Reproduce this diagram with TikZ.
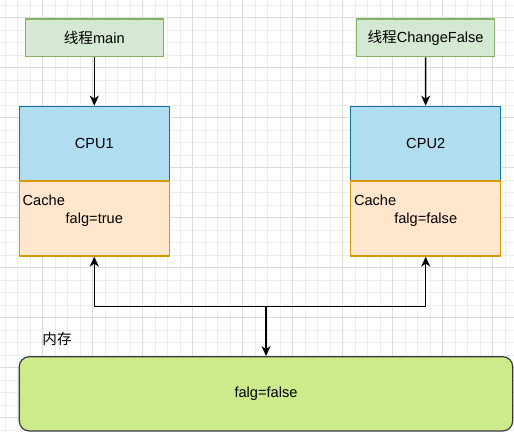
\documentclass[tikz,border=0pt]{standalone}
\usepackage{fontspec}
\setmainfont{Liberation Sans}
\newfontfamily\cjk{Noto Sans CJK SC}
\usetikzlibrary{arrows.meta}
\definecolor{thrfill}{HTML}{D5E8D4}
\definecolor{thrline}{HTML}{82B366}
\definecolor{cpufill}{HTML}{B1DDF0}
\definecolor{cpuline}{HTML}{10739E}
\definecolor{cachefill}{HTML}{FFE6CC}
\definecolor{cacheline}{HTML}{D79B00}
\definecolor{memfill}{HTML}{CDEB8B}
\definecolor{memline}{HTML}{36393D}
\definecolor{gridminor}{HTML}{EDEDED}
\definecolor{gridmajor}{HTML}{DCDCDC}
\tikzset{
  thread/.style={draw=thrline, fill=thrfill, line width=1.3pt, minimum width=138pt, minimum height=37.7pt},
  cpu/.style={draw=cpuline, fill=cpufill, line width=1.2pt, minimum width=150pt, minimum height=74.7pt},
  cache/.style={draw=cacheline, fill=cachefill, line width=1.2pt, minimum width=150pt, minimum height=75pt},
  mem/.style={draw=memline, fill=memfill, line width=1.2pt, rounded corners=10pt, minimum width=493.4pt, minimum height=74.3pt},
  link/.style={->, line width=1.4pt}
}
\begin{document}
\begin{tikzpicture}[x=1pt, y=-1pt, font=\fontsize{14.6}{17}\selectfont, line join=round, >={Stealth[length=10pt, width=9pt, inset=3pt]}]
% background grid
\fill[white] (0,0) rectangle (514,432);
\useasboundingbox (0,0) rectangle (514,432);
\foreach \x in {5.2,17.7,...,514} \draw[gridminor, line width=0.8pt] (\x,0) -- (\x,432);
\foreach \y in {5,17.5,...,432} \draw[gridminor, line width=0.8pt] (0,\y) -- (514,\y);
\foreach \x in {42.7,92.7,...,514} \draw[gridmajor, line width=0.9pt] (\x,0) -- (\x,432);
\foreach \y in {17.5,67.5,...,432} \draw[gridmajor, line width=0.9pt] (0,\y) -- (514,\y);
% boxes
\node[thread] (tmain) at (94.3,37.8) {{\cjk 线程}main};
\node[thread] (tchange) at (425.6,37.8) {{\cjk 线程}ChangeFalse};
\node[cpu] (cpu1) at (94.3,143.6) {CPU1};
\node[cpu] (cpu2) at (425.7,143.6) {CPU2};
\node[cache] (cache1) at (94.3,218.5) {};
\node[cache] (cache2) at (425.7,218.5) {};
\node[anchor=west, inner sep=0pt] (c1lbl) at (22.5,200.5) {Cache};
\node[inner sep=0pt] (c1val) at (94.3,219.5) {falg=true};
\node[anchor=west, inner sep=0pt] (c2lbl) at (353.8,200.5) {Cache};
\node[inner sep=0pt] (c2val) at (425.7,219.5) {falg=false};
\node[mem] (mem) at (266,393.8) {falg=false};
\node[inner sep=0pt] (memlbl) at (57,338.5) {\cjk 内存};
% connectors
\coordinate (bus) at (266,306.7);
\draw[link] (tmain) -- (cpu1);
\draw[link] (tchange) -- (cpu2);
\draw[link] (bus) -| (cache1);
\draw[link] (bus) -| (cache2);
\draw[link] (bus) -- (mem);
\end{tikzpicture}
\end{document}
